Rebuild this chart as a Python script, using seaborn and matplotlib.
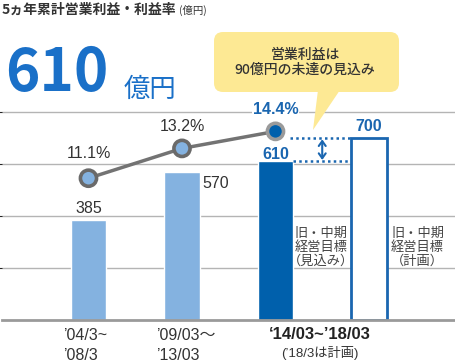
import matplotlib.pyplot as plt
import matplotlib.transforms as mtransforms
from matplotlib.patches import FancyBboxPatch, Polygon
import pandas as pd
import seaborn as sns

# data
periods = ["’04/3~’08/3", "’09/03〜’13/03", "’14/03~’18/03", "旧・中期経営目標（計画）"]
profit = [385, 570, 610, 700]
margin = [11.1, 13.2, 14.4]
margin_labels = ["11.1%", "13.2%", "14.4%"]
tick_line1 = ["’04/3~", "’09/03〜"]
tick_line2 = ["’08/3", "’13/03"]
current_label = "‘14/03~’18/03"
current_note = "(’18/3は計画)"
title = "5ヵ年累計営業利益・利益率"
headline = "610"
callout = ["営業利益は", "90億円の未達の見込み"]

LIGHT = "#84b2e0"
DARK = "#0060ac"
BLUE = "#1a66b0"
BIG_BLUE = "#1a70c8"
TEXT = "#333333"
GRID = "#b4b4b4"

sns.set_style("white")
plt.rcParams["font.family"] = ["Liberation Sans", "Noto Sans CJK JP", "DejaVu Sans"]

fig = plt.figure(figsize=(4.55, 3.62), dpi=100)
ax = fig.add_axes([2 / 455, 42 / 362, 453 / 455, 220 / 362])

df = pd.DataFrame({"period": periods, "profit": profit})
sns.barplot(data=df, x="period", y="profit", hue="period",
            palette=[LIGHT, LIGHT, DARK, "white"], width=0.375,
            saturation=1, legend=False, ax=ax, zorder=2)
target_bar = ax.patches[3]
target_bar.set_edgecolor(BLUE)
target_bar.set_linewidth(2)

ax.set_ylim(0, 846)
ax.set_yticks([200, 400, 600, 800])
ax.set_axisbelow(True)
ax.grid(axis="y", color=GRID, lw=1)
ax.tick_params(left=False, bottom=False, labelleft=False, labelbottom=False)
ax.set_xlabel("")
ax.set_ylabel("")
for side in ["top", "left", "right"]:
    ax.spines[side].set_visible(False)
ax.spines["bottom"].set_color("#9a9a9a")
ax.spines["bottom"].set_linewidth(2)

# value labels
ax.annotate(str(profit[0]), (0, profit[0]), xytext=(0, 5), textcoords="offset points",
            ha="center", va="baseline", fontsize=11.5, color=TEXT)
ax.annotate(str(profit[1]), (1 + 0.1875, profit[1]), xytext=(2, -11.5), textcoords="offset points",
            ha="left", va="baseline", fontsize=11.5, color=TEXT)
ax.annotate(str(profit[2]), (2, profit[2]), xytext=(0, 1.8), textcoords="offset points",
            ha="center", va="baseline", fontsize=11.5, color=BLUE, fontweight="bold")
ax.annotate(str(profit[3]), (3, profit[3]), xytext=(0, 5), textcoords="offset points",
            ha="center", va="baseline", fontsize=11.5, color=BLUE, fontweight="bold")

# gap between outlook and target
for level, x0 in [(profit[3], 2.16), (profit[2], 2.19)]:
    ax.plot([x0, 2.81], [level, level], ls=(0, (1, 1.3)), color=BLUE, lw=1.8, zorder=3)
ax.annotate("", xy=(2.5, profit[3]), xytext=(2.5, profit[2]),
            arrowprops=dict(arrowstyle="<->,head_length=0.35,head_width=0.25",
                            color=BLUE, lw=1.5, shrinkA=1, shrinkB=1), zorder=3)

# margin line
ax2 = ax.twinx()
xs = list(range(len(margin)))
sns.lineplot(x=xs, y=margin, ax=ax2, color="#737373", lw=2.5, zorder=3)
sns.scatterplot(x=xs, y=margin, hue=margin_labels, palette=[LIGHT, LIGHT, DARK],
                s=135, edgecolor=["#6a6a6a", "#6a6a6a", "#9a9a9a"], linewidth=2.6,
                legend=False, ax=ax2, zorder=4)
ax2.set_ylim(1.11, 16.61)
ax2.axis("off")
for i, (v, lab) in enumerate(zip(margin, margin_labels)):
    last = i == len(margin) - 1
    ax2.annotate(lab, (i, v), xytext=(0, 12.5 if i else 14.4), textcoords="offset points",
                 ha="center", va="baseline", fontsize=11.5,
                 color=BLUE if last else TEXT, fontweight="bold" if last else "normal",
                 bbox=dict(fc="white", ec="none", pad=0.5) if last else None)
ax.set_xlim(-0.925, 3.92)

# overlay in pixel coordinates for headings and tick text
ov = fig.add_axes([0, 0, 1, 1], zorder=5)
ov.set_xlim(0, 455)
ov.set_ylim(362, 0)
ov.axis("off")
ov.patch.set_alpha(0)
bt = mtransforms.blended_transform_factory(ax.transData, ov.transData)

title_txt = ov.text(2, 14, title, fontsize=10, fontweight="bold", color=TEXT, va="baseline",
                    family=["Noto Sans CJK JP"])
renderer = fig.canvas.get_renderer()
title_end = ov.transData.inverted().transform(
    title_txt.get_window_extent(renderer).get_points())[1][0]
ov.text(title_end + 2, 14, "(億円)", fontsize=7.5, color=TEXT, va="baseline",
        family=["Noto Sans CJK JP"])
ov.text(5, 91, headline, fontsize=42, fontweight="bold", color=BIG_BLUE, va="baseline",
        family=["Noto Sans CJK JP"])
ov.text(124, 97, "億円", fontsize=19, color=BIG_BLUE, va="baseline", family=["Noto Sans CJK JP"])

ov.add_patch(FancyBboxPatch((214, 32), 185, 60, boxstyle="round,pad=0,rounding_size=9",
                            fc="#fde994", ec="none"))
ov.add_patch(Polygon([(318, 90), (340, 90), (313, 130)], closed=True, fc="#fde994", ec="none"))
for j, line in enumerate(callout):
    ov.text(305, 58.5 + 15 * j, line, fontsize=10, color=TEXT, ha="center", va="baseline",
            family=["Noto Sans CJK JP"], fontweight="medium")

for i in range(2):
    ov.text(i - 0.273, 340, tick_line1[i], fontsize=11.5, color=TEXT, va="baseline", transform=bt)
    ov.text(i - 0.273, 360, tick_line2[i], fontsize=11.5, color=TEXT, va="baseline", transform=bt)
ov.text(2.47, 339, current_label, fontsize=12, fontweight="bold", color="#222222",
        ha="center", va="baseline", transform=bt)
ov.text(2.47, 357, current_note, fontsize=9.5, color=TEXT, ha="center", va="baseline", transform=bt)

for xc, note in [(2.49, "（見込み）"), (3.52, "（計画）")]:
    for j, line in enumerate(["旧・中期", "経営目標", note]):
        ov.text(xc, 237 + 14 * j, line, fontsize=9.5, color="#444444", ha="center",
                va="baseline", transform=bt, family=["Noto Sans CJK JP"])

fig.savefig("out.png", dpi=100)
